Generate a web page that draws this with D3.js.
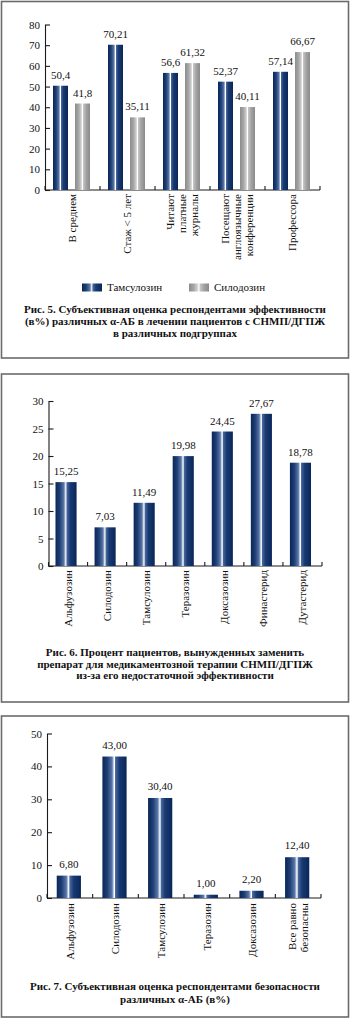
<!DOCTYPE html>
<html><head><meta charset="utf-8">
<script src="https://cdn.jsdelivr.net/npm/d3@7"></script>
<style>
html,body{margin:0;padding:0;background:#fff;}
svg{display:block;font-family:"Liberation Serif","DejaVu Serif",serif;}
</style></head>
<body><svg id="c" width="350" height="1019"></svg>
<script>
// ---- Figure 5 data ----
const fig5Categories = [["В среднем"], ["Стаж < 5 лет"], ["Читают","платные","журналы"], ["Посещают","англоязычные","конференции"], ["Профессора"]];
const fig5Series = ["Тамсулозин", "Силодозин"];
const fig5Tamsulosin = [50.4, 70.21, 56.6, 52.37, 57.14];
const fig5Silodosin = [41.8, 35.11, 61.32, 40.11, 66.67];
const fig5Ticks = [0, 10, 20, 30, 40, 50, 60, 70, 80];
const fig5Caption = ["Рис. 5. Субъективная оценка респондентами эффективности", "(в%) различных α-АБ в лечении пациентов с СНМП/ДГПЖ", "в различных подгруппах"];

// ---- Figure 6 data ----
const fig6Categories = [["Альфузозин"], ["Силодозин"], ["Тамсулозин"], ["Теразозин"], ["Доксазозин"], ["Финастерид"], ["Дутастерид"]];
const fig6Values = [15.25, 7.03, 11.49, 19.98, 24.45, 27.67, 18.78];
const fig6Ticks = [0, 5, 10, 15, 20, 25, 30];
const fig6Caption = ["Рис. 6. Процент пациентов, вынужденных заменить", "препарат для медикаментозной терапии СНМП/ДГПЖ", "из-за его недостаточной эффективности"];

// ---- Figure 7 data ----
const fig7Categories = [["Альфузозин"], ["Силодозин"], ["Тамсулозин"], ["Теразозин"], ["Доксазозин"], ["Все равно","безопасны"]];
const fig7Values = [6.8, 43.0, 30.4, 1.0, 2.2, 12.4];
const fig7Ticks = [0, 10, 20, 30, 40, 50];
const fig7Caption = ["Рис. 7. Субъективная оценка респондентами безопасности", "различных α-АБ (в%)"];

const svg = d3.select("#c");
const defs = svg.append("defs");
function grad(id, stops){
  const g = defs.append("linearGradient").attr("id", id).attr("x1","0").attr("x2","1").attr("y1","0").attr("y2","0");
  stops.forEach(s => g.append("stop").attr("offset", s[0]).attr("stop-color", s[1]));
}
grad("gBlue", [[0,"#0a2658"],[0.2,"#1d3d74"],[0.4,"#5a78a8"],[0.47,"#d6dfec"],[0.5,"#ffffff"],[0.54,"#4a6a9e"],[0.7,"#183a72"],[1,"#0a2658"]]);
grad("gGray", [[0,"#8c8c8c"],[0.25,"#a8a8a8"],[0.42,"#d2d2d2"],[0.5,"#ffffff"],[0.56,"#c4c4c4"],[0.75,"#a2a2a2"],[1,"#8a8a8a"]]);

const fmtComma = v => String(v).replace(".", ",");
const fmt2 = v => v.toFixed(2).replace(".", ",");

function panelBox(y0, y1){
  svg.append("rect").attr("x", 1.5).attr("y", y0).attr("width", 347).attr("height", y1 - y0)
    .attr("fill", "none").attr("stroke", "#6b6b6b").attr("stroke-width", 1.6);
}

function drawAxes(x, y, ticks, fontSize){
  const x0 = x.range()[0], x1 = x.range()[1], yb = y.range()[0];
  // y axis
  svg.append("g").attr("transform", `translate(${x0},0)`)
    .call(d3.axisLeft(y).tickValues(ticks).tickSize(-5).tickSizeOuter(0).tickPadding(5).tickFormat(d3.format("d")))
    .call(g => {
      g.selectAll("path,line").attr("stroke", "#1a1a1a").attr("stroke-width", 1.1);
      g.selectAll("text").attr("font-family", "Liberation Serif").attr("font-size", fontSize).attr("fill", "#111");
    });
  // x axis line
  svg.append("line").attr("x1", x0).attr("x2", x1).attr("y1", yb).attr("y2", yb).attr("stroke", "#1a1a1a").attr("stroke-width", 1.1);
  const bounds = x.domain().map(d => x(d) + x.step()).concat([x0]);
  svg.append("g").selectAll("line").data(bounds).join("line")
    .attr("x1", d => d).attr("x2", d => d).attr("y1", yb).attr("y2", yb - 4)
    .attr("stroke", "#1a1a1a").attr("stroke-width", 1.1);
}

function catLabels(x, cats, yTop, fontSize, lineGap){
  cats.forEach((lines, i) => {
    const cx = x(x.domain()[i]) + x.bandwidth() / 2;
    const n = lines.length;
    lines.forEach((ln, j) => {
      const lx = cx + (j - (n - 1) / 2) * lineGap + fontSize * 0.35;
      svg.append("text").attr("transform", `translate(${lx},${yTop}) rotate(-90)`)
        .attr("text-anchor", "end").attr("font-size", fontSize).attr("fill", "#111").text(ln);
    });
  });
}

function caption(lines, x, y0, gap){
  lines.forEach((ln, i) => {
    svg.append("text").attr("x", x).attr("y", y0 + i * gap).attr("text-anchor", "middle")
      .attr("font-weight", "bold").attr("font-size", 11).attr("fill", "#111").text(ln);
  });
}

// ================= Figure 5 =================
panelBox(1.5, 358);
{
  const idx = fig5Categories.map((d, i) => i);
  const x = d3.scaleBand().domain(idx).range([45, 320]).padding(0);
  const y = d3.scaleLinear().domain([0, 80]).range([190, 24.5]);
  const x1 = d3.scaleBand().domain(fig5Series).range([8, 45]).paddingInner(7 / 22).paddingOuter(0);
  drawAxes(x, y, fig5Ticks, 11);
  const rows = idx.map(i => [
    {s: fig5Series[0], v: fig5Tamsulosin[i], i, fill: "url(#gBlue)"},
    {s: fig5Series[1], v: fig5Silodosin[i], i, fill: "url(#gGray)"}
  ]).flat();
  svg.append("g").selectAll("rect").data(rows).join("rect")
    .attr("x", d => x(d.i) + x1(d.s)).attr("width", x1.bandwidth())
    .attr("y", d => y(d.v)).attr("height", d => y(0) - y(d.v)).attr("fill", d => d.fill);
  svg.append("g").selectAll("text").data(rows).join("text")
    .attr("x", d => x(d.i) + x1(d.s) + x1.bandwidth() / 2).attr("y", d => y(d.v) - 7)
    .attr("text-anchor", "middle").attr("font-size", 11).attr("fill", "#111").text(d => fmtComma(d.v));
  catLabels(x, fig5Categories, 194, 11, 12);
  // legend
  const lg = [{s: fig5Series[0], fill: "url(#gBlue)", x: 82}, {s: fig5Series[1], fill: "url(#gGray)", x: 189}];
  lg.forEach(l => {
    svg.append("rect").attr("x", l.x).attr("y", 283.5).attr("width", 20).attr("height", 8).attr("fill", l.fill);
    svg.append("text").attr("x", l.x + 25).attr("y", 291).attr("font-size", 11).attr("fill", "#111").text(l.s);
  });
  caption(fig5Caption, 175, 312.5, 12);
}

// ================= Figure 6 =================
panelBox(374, 702);
{
  const idx = fig6Categories.map((d, i) => i);
  const x = d3.scaleBand().domain(idx).range([48.5, 322]).paddingInner(0.46).paddingOuter(0.23);
  const xa = d3.scaleBand().domain(idx).range([48.5, 322]).padding(0);
  const y = d3.scaleLinear().domain([0, 30]).range([566, 401]);
  drawAxes(xa, y, fig6Ticks, 11);
  svg.append("g").selectAll("rect").data(fig6Values).join("rect")
    .attr("x", (d, i) => x(i) - 2).attr("width", x.bandwidth())
    .attr("y", d => y(d)).attr("height", d => y(0) - y(d)).attr("fill", "url(#gBlue)");
  svg.append("g").selectAll("text").data(fig6Values).join("text")
    .attr("x", (d, i) => x(i) - 2 + x.bandwidth() / 2).attr("y", d => y(d) - 7)
    .attr("text-anchor", "middle").attr("font-size", 11).attr("fill", "#111").text(d => fmtComma(d));
  catLabels(xa, fig6Categories, 570, 11, 12);
  caption(fig6Caption, 175, 656, 11.5);
}

// ================= Figure 7 =================
panelBox(716, 1017);
{
  const idx = fig7Categories.map((d, i) => i);
  const x = d3.scaleBand().domain(idx).range([47, 321]).paddingInner(0.47).paddingOuter(0.235);
  const xa = d3.scaleBand().domain(idx).range([47, 321]).padding(0);
  const y = d3.scaleLinear().domain([0, 50]).range([898, 733.5]);
  drawAxes(xa, y, fig7Ticks, 11);
  svg.append("g").selectAll("rect").data(fig7Values).join("rect")
    .attr("x", (d, i) => x(i) - 1).attr("width", x.bandwidth())
    .attr("y", d => y(d)).attr("height", d => y(0) - y(d)).attr("fill", "url(#gBlue)");
  svg.append("g").selectAll("text").data(fig7Values).join("text")
    .attr("x", (d, i) => x(i) - 1 + x.bandwidth() / 2).attr("y", d => y(d) - 8)
    .attr("text-anchor", "middle").attr("font-size", 11).attr("fill", "#111").text(d => fmt2(d));
  catLabels(xa, fig7Categories, 903, 11, 12);
  caption(fig7Caption, 175, 990, 13);
}
</script></body></html>
